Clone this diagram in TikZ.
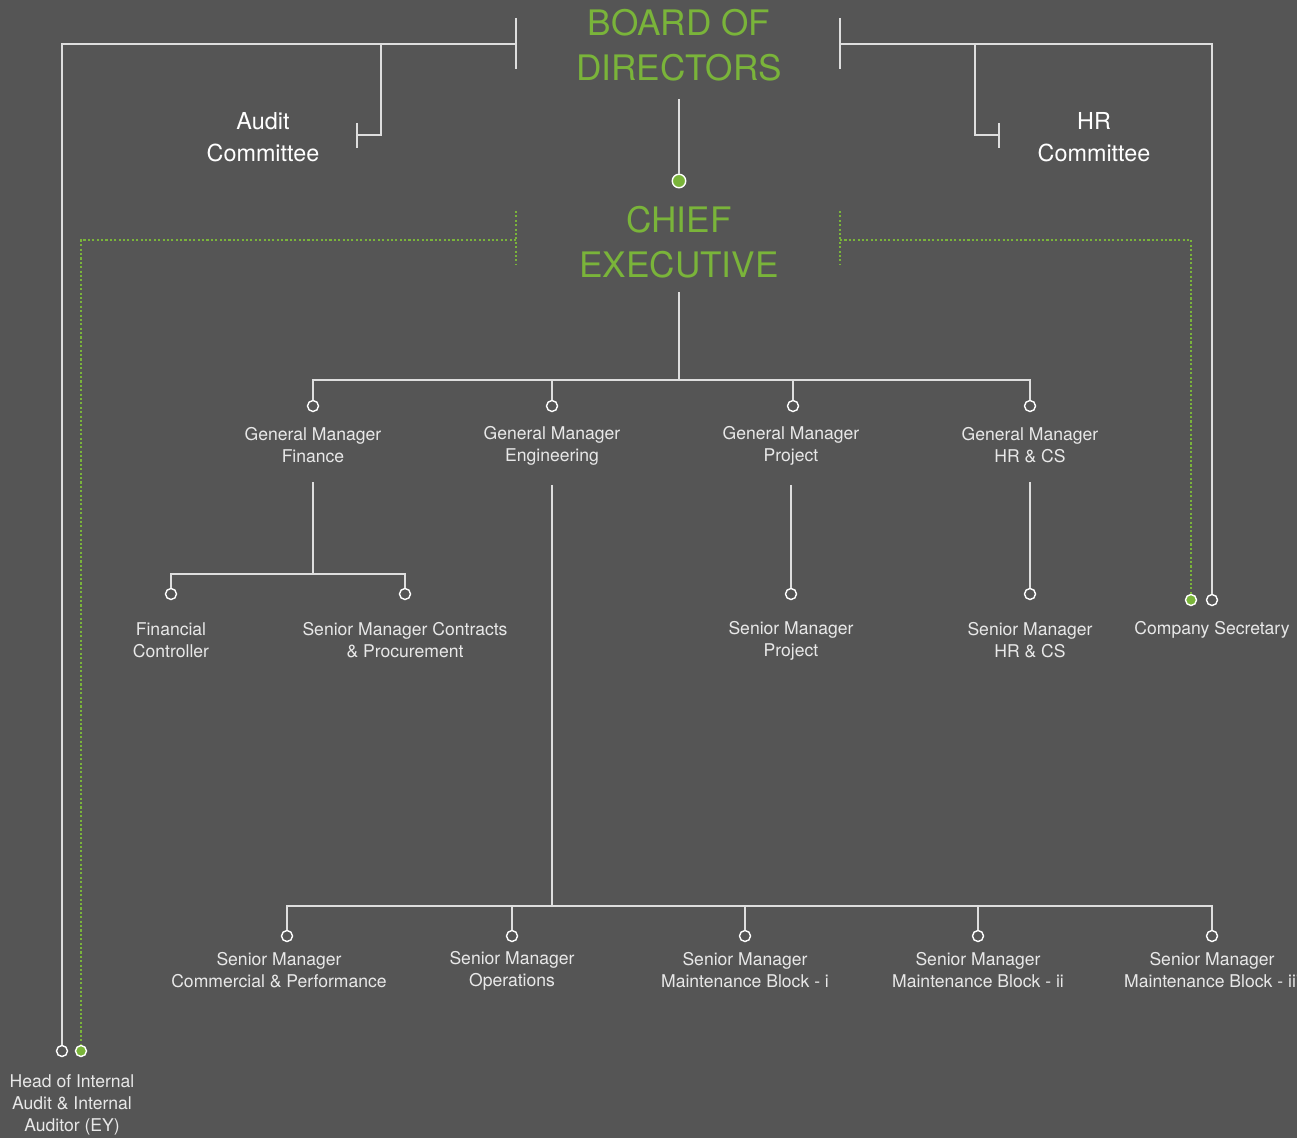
\documentclass[tikz,border=0pt]{standalone}
\usepackage{fontspec}
\setmainfont{TeX Gyre Heros}
\usepackage{xcolor}
\usepackage{tikz}
\usetikzlibrary{positioning}
\definecolor{bgGrey}{RGB}{85,85,85}
\definecolor{leafGreen}{RGB}{122,180,58}
\definecolor{lineGrey}{RGB}{222,222,222}
\definecolor{txtGrey}{RGB}{232,232,232}

\begin{document}
\begin{tikzpicture}[x=0.02cm,y=-0.02cm,
  link/.style={draw=lineGrey,line width=0.85pt},
  greendots/.style={draw=leafGreen,line width=1.3pt,dash pattern=on 1.2pt off 1.3pt},
  hollow/.style={circle,draw=white,fill=bgGrey,line width=0.8pt,minimum size=0.22cm,inner sep=0pt},
  filled/.style={hollow,fill=leafGreen},
  post/.style={font=\fontsize{10}{12.3}\selectfont,text=txtGrey,align=center,inner sep=0pt},
  cttee/.style={font=\fontsize{13.3}{18}\selectfont,text=white,align=center,inner sep=0pt},
  head/.style={font=\fontsize{20}{25.5}\selectfont,text=leafGreen,align=center,inner sep=0pt}]
\useasboundingbox (0,0) rectangle (1297,1138);
\fill[bgGrey] (0,0) rectangle (1297,1138);
\clip (0,0) rectangle (1297,1138);

% board and chief executive
\node[head] (bod) at (679,45) {BOARD OF\\DIRECTORS};
\node[filled,minimum size=0.27cm] (ceodot) at (679,181) {};
\node[head] (ceo) at (679,242) {CHIEF\\EXECUTIVE};
\draw[link,shorten <=10pt] (bod.south) -- (ceodot);

% committees
\node[cttee] (audit) at (263,137) {Audit\\Committee};
\node[cttee] (hrc) at (1094,137) {HR\\Committee};

% dots of the outer lines
\node[hollow] (dhia) at (62,1051) {};
\node[filled] (dhiag) at (81,1051) {};
\node[filled] (dcsg) at (1191,600) {};
\node[hollow] (dcs) at (1212,600) {};
\node[post] (hia) at (72,1105) {Head of Internal\\Audit \& Internal\\Auditor (EY)};
\node[post] (cs) at (1212,630) {Company Secretary};

% board brackets
\coordinate (bodL) at (516,44);
\coordinate (bodR) at (840,44);
\draw[link] (bodL) ++(0,-26) -- ++(0,51);
\draw[link] (bodR) ++(0,-26) -- ++(0,51);
\draw[link] (bodL) -| (dhia);
\draw[link] (bodR) -| (dcs);
\coordinate (jaud) at (381,44);
\coordinate (audR) at (357,135);
\draw[link] (jaud) |- (audR);
\draw[link] (audR) ++(0,-12) -- ++(0,25);
\coordinate (jhr) at (975,44);
\coordinate (hrL) at (999,135);
\draw[link] (jhr) |- (hrL);
\draw[link] (hrL) ++(0,-12) -- ++(0,25);

% chief executive brackets
\coordinate (ceoL) at (516,240);
\coordinate (ceoR) at (840,240);
\draw[greendots] (ceoL) ++(0,-29) -- ++(0,54);
\draw[greendots] (ceoR) ++(0,-29) -- ++(0,54);
\draw[greendots] (ceoL) -| (dhiag);
\draw[greendots] (ceoR) -| (dcsg);

% general managers
\coordinate (jgm) at (679,380);
\node[hollow] (dfin) at (313,406) {};
\node[hollow] (deng) at (552,406) {};
\node[hollow] (dpro) at (793,406) {};
\node[hollow] (dhr) at (1030,406) {};
\node[post] (gmfin) at (313,445) {General Manager\\Finance};
\node[post] (gmeng) at (552,446) {General Manager\\Engineering};
\node[post] (gmpro) at (791,446) {General Manager\\Project};
\node[post] (gmhr) at (1030,445) {General Manager\\HR \& CS};
\draw[link,shorten <=8pt] (ceo.south) -- (jgm);
\draw[link] (dfin) -- (dfin |- jgm) -- (dhr |- jgm) -- (dhr);
\draw[link] (deng) -- (deng |- jgm);
\draw[link] (dpro) -- (dpro |- jgm);

% finance
\coordinate (jfin) at (313,574);
\node[hollow] (dfc) at (171,594) {};
\node[hollow] (dscp) at (405,594) {};
\node[post] (fc) at (171,640) {Financial\\Controller};
\node[post] (scp) at (405,640) {Senior Manager Contracts\\\& Procurement};
\draw[link,shorten <=11pt] (gmfin.south) -- (jfin);
\draw[link] (dfc) -- (dfc |- jfin) -- (dscp |- jfin) -- (dscp);

% project and hr
\node[hollow] (dsmp) at (791,594) {};
\node[hollow] (dsmhr) at (1030,594) {};
\node[post] (smp) at (791,641) {Senior Manager\\Project};
\node[post] (smhr) at (1030,640) {Senior Manager\\HR \& CS};
\draw[link,shorten <=11pt] (gmpro.south) -- (dsmp);
\draw[link,shorten <=11pt] (gmhr.south) -- (dsmhr);

% engineering
\coordinate (jeng) at (552,906);
\node[hollow] (dcom) at (287,936) {};
\node[hollow] (dops) at (512,936) {};
\node[hollow] (dmb1) at (745,936) {};
\node[hollow] (dmb2) at (978,936) {};
\node[hollow] (dmb3) at (1212,936) {};
\node[post] (com) at (279,970) {Senior Manager\\Commercial \& Performance};
\node[post] (ops) at (512,971) {Senior Manager\\Operations};
\node[post] (mb1) at (745,970) {Senior Manager\\Maintenance Block - i};
\node[post] (mb2) at (978,970) {Senior Manager\\Maintenance Block - ii};
\node[post] (mb3) at (1212,970) {Senior Manager\\Maintenance Block - iii};
\draw[link,shorten <=11pt] (gmeng.south) -- (jeng);
\draw[link] (dcom) -- (dcom |- jeng) -- (dmb3 |- jeng) -- (dmb3);
\draw[link] (dops) -- (dops |- jeng);
\draw[link] (dmb1) -- (dmb1 |- jeng);
\draw[link] (dmb2) -- (dmb2 |- jeng);
\end{tikzpicture}
\end{document}
